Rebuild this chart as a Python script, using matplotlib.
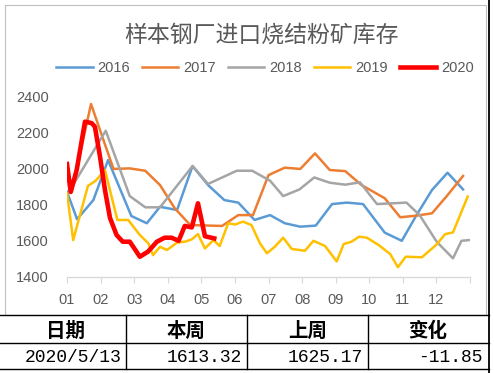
#coding: UTF-8
import matplotlib
matplotlib.use("Agg")
import matplotlib.pyplot as plt
from matplotlib.lines import Line2D

plt.rcParams['font.family'] = ['Noto Sans CJK SC', 'DejaVu Sans']

W, H = 494, 373

# week position (0 = first week of Jan) and inventory
wk_2016 = [0, 1.3, 3.4, 5.3, 8.3, 10.3, 12.0, 14.2, 16.2, 18.2, 20.3, 22.1, 24.2, 26.2,
           28.1, 30.1, 32.1, 34.2, 36.1, 38.2, 41.0, 43.2, 45.1, 47.1, 49.1, 51.1]
val_2016 = [1871, 1719, 1825, 2046, 1737, 1697, 1788, 1770, 2013, 1908, 1825, 1811, 1715, 1742,
            1697, 1678, 1684, 1803, 1811, 1803, 1645, 1600, 1742, 1881, 1976, 1884]

wk_2017 = [0, 0.65, 3.1, 4.7, 6.0, 8.1, 10.1, 12.0, 13.9, 15.9, 20.0, 22.1, 24.0, 26.0,
           28.1, 30.1, 32.0, 33.9, 35.9, 38.0, 41.0, 43.0, 45.1, 47.1, 49.0, 51.1]
val_2017 = [2000, 1880, 2356, 2157, 1997, 2000, 1987, 1908, 1780, 1687, 1682, 1742, 1742, 1963,
            2004, 1997, 2083, 1991, 1985, 1908, 1835, 1730, 1739, 1752, 1847, 1958]

wk_2018 = [0, 5.0, 8.1, 10.1, 12.0, 16.2, 18.2, 21.9, 23.9, 26.2, 27.9, 30.0, 31.9, 33.9,
           35.9, 37.8, 40.0, 43.8, 45.5, 47.7, 49.8, 50.9, 51.9]
val_2018 = [1853, 2208, 1847, 1785, 1785, 2013, 1914, 1987, 1987, 1932, 1847, 1884, 1950, 1921,
            1910, 1923, 1803, 1811, 1742, 1595, 1503, 1600, 1604]

wk_2019 = [0, 0.8, 2.7, 3.7, 4.9, 6.5, 7.9, 9.4, 10.5, 11.1, 12.0, 12.9, 14.2, 15.2, 16.1,
           16.9, 17.8, 18.9, 19.7, 20.8, 21.7, 22.7, 23.8, 24.9, 25.8, 26.8, 27.9, 29.0,
           30.7, 31.8, 33.3, 34.8, 35.7, 36.7, 37.7, 38.7, 40.2, 41.7, 42.7, 43.7, 45.8,
           47.7, 48.8, 49.8, 51.7]
val_2019 = [1862, 1604, 1903, 1932, 1991, 1715, 1715, 1632, 1586, 1521, 1567, 1549, 1590, 1595, 1608,
            1637, 1558, 1604, 1571, 1697, 1690, 1706, 1687, 1586, 1531, 1567, 1617, 1555,
            1545, 1600, 1571, 1486, 1582, 1595, 1623, 1617, 1577, 1527, 1454, 1512, 1509,
            1580, 1637, 1646, 1844]

wk_2020 = [0, 0.48, 1.25, 2.32, 3.19, 3.6, 4.26, 4.9, 5.55, 6.4, 7.2, 8.1, 8.5, 9.4, 10.45,
           11.6, 12.6, 13.5, 14.4, 15.2, 16.1, 16.9, 17.8, 19.0]
val_2020 = [2024, 1870, 1991, 2258, 2250, 2230, 2065, 1880, 1726, 1632, 1595, 1595, 1570, 1512, 1540,
            1595, 1617, 1617, 1600, 1682, 1674, 1807, 1625.17, 1613.32]

years = ['2016', '2017', '2018', '2019', '2020']
colors = ['#5B9BD5', '#ED7D31', '#A5A5A5', '#FFC000', '#FF0000']
months = ['01', '02', '03', '04', '05', '06', '07', '08', '09', '10', '11', '12']

table_head = ['日期', '本周', '上周', '变化']
table_row = ['2020/5/13', '1613.32', '1625.17', '-11.85']


def fx(x):
    return x / W


def fy(y):
    return 1 - y / H


fig = plt.figure(figsize=(W / 100, H / 100), dpi=100)
ax = fig.add_axes([fx(67), fy(277), (470 - 67) / W, (277 - 96) / H])

series = [(wk_2016, val_2016), (wk_2017, val_2017), (wk_2018, val_2018),
          (wk_2019, val_2019), (wk_2020, val_2020)]
for i, (xs, ys) in enumerate(series):
    lw = 3.3 if years[i] == '2020' else 1.8
    ax.plot(xs, ys, color=colors[i], lw=lw, label=years[i], solid_joinstyle='round')

ax.set_xlim(0, 52)
ax.set_ylim(1400, 2400)
ax.set_yticks(range(1400, 2401, 200))
ticks = [52 / 12 * i for i in range(13)]
ax.set_xticks(ticks)
ax.set_xticklabels(months + [''])
for s in ['top', 'right', 'left']:
    ax.spines[s].set_visible(False)
ax.spines['bottom'].set_color('#D9D9D9')
ax.spines['bottom'].set_linewidth(1.0)
ax.tick_params(axis='x', direction='out', length=4.5, color='#D9D9D9', pad=7,
               labelsize=10.5, labelcolor='#595959')
ax.tick_params(axis='y', length=0, pad=13, labelsize=10.5, labelcolor='#595959')
for lab in ax.get_xticklabels() + ax.get_yticklabels():
    lab.set_family(['Liberation Sans', 'DejaVu Sans'])

fig.text(fx(262), fy(35), '样本钢厂进口烧结粉矿库存', ha='center', va='center',
         fontsize=16.5, color='#595959')

leg = fig.legend(loc='center', bbox_to_anchor=(fx(265), fy(68)), ncol=5, frameon=False,
                 handlelength=2.5, handletextpad=0.35, columnspacing=0.8,
                 prop={'family': ['Liberation Sans', 'DejaVu Sans'], 'size': 10.5})
for t in leg.get_texts():
    t.set_color('#595959')

# chart frame
fig.add_artist(Line2D([fx(5), fx(5), fx(486), fx(486), fx(5)],
                      [fy(5), fy(315), fy(315), fy(5), fy(5)], color='#BFBFBF', lw=0.8))
# table lines
k = '#000000'
fig.add_artist(Line2D([fx(489), fx(489)], [fy(0), fy(373)], color=k, lw=1.3))
for y in [315, 343, 369]:
    fig.add_artist(Line2D([fx(0), fx(489)], [fy(y), fy(y)], color=k, lw=1.0))
for x in [126, 247, 368]:
    fig.add_artist(Line2D([fx(x), fx(x)], [fy(315), fy(369)], color=k, lw=1.0))

col_l = [5, 126, 247, 368]
col_r = [126, 247, 368, 488]
for i in range(4):
    fig.text(fx((col_l[i] + col_r[i]) / 2), fy(331), table_head[i], ha='center', va='center',
             fontsize=14, fontweight='bold', color='#000000')
    fig.text(fx(col_r[i] - 5), fy(357), table_row[i], ha='right', va='center',
             fontsize=13, family=['Liberation Mono', 'DejaVu Sans Mono'], color='#000000')

fig.savefig('out.png', dpi=100)
